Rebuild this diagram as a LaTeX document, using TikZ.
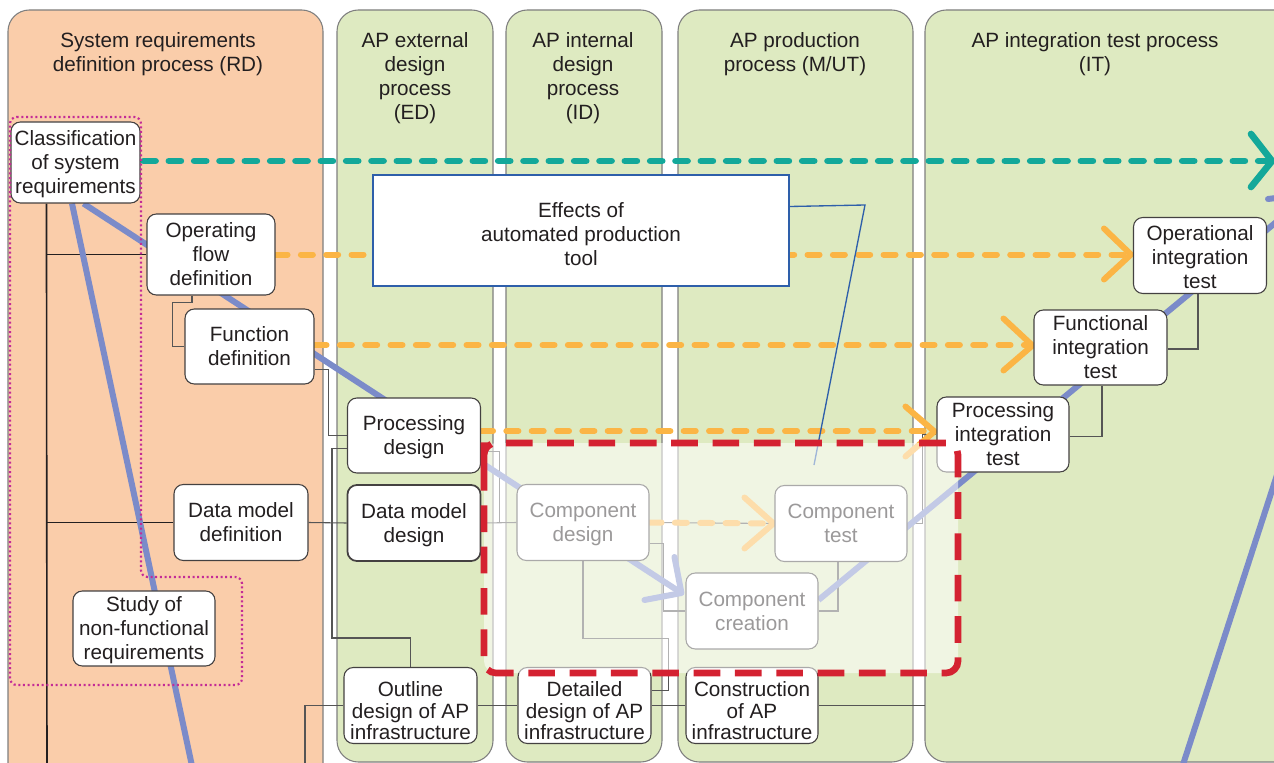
\documentclass[tikz,border=0pt]{standalone}
\usepackage{fontspec}
\setmainfont{Liberation Sans}
\usetikzlibrary{calc}
\definecolor{peach}{HTML}{FACDAA}
\definecolor{lanegreen}{HTML}{DEEAC1}
\definecolor{laneedge}{HTML}{7F7F7F}
\definecolor{vblue}{HTML}{7B8BC9}
\definecolor{tealc}{HTML}{13A89A}
\definecolor{orangec}{HTML}{FBB545}
\definecolor{redc}{HTML}{D42231}
\definecolor{calloutblue}{HTML}{2E5FAA}
\definecolor{dotmag}{HTML}{C42B96}
\definecolor{ink}{HTML}{231F20}
\definecolor{linkgray}{HTML}{555555}

\pgfdeclarelayer{lanes}
\pgfdeclarelayer{lines}
\pgfdeclarelayer{top}
\pgfsetlayers{lanes,lines,main,top}

% centred multi-line label, lowered a little inside its box
\newcommand\bxt[2][-5.4pt]{\raisebox{#1}[0pt][0pt]{\begin{tabular}{@{}c@{}}#2\end{tabular}}}
% same, with tighter lines for the infrastructure steps
\newcommand\bxtight[1]{{\renewcommand\arraystretch{0.89}\bxt[-9.8pt]{#1}}}

\tikzset{
  lane/.style={draw=laneedge, line width=0.8pt, rounded corners=16pt},
  header/.style={align=center, inner sep=0pt},
  box/.style={draw=ink!85, line width=0.8pt, fill=white, rounded corners=7pt,
              inner sep=0pt},
  bx/.style 2 args={minimum width=#1*0.75pt, minimum height=#2*0.75pt},
  tree/.style={draw=ink, line width=1.2pt},
  link/.style={draw=linkgray, line width=0.8pt},
  vline/.style={draw=vblue, line width=4.5pt},
  odash/.style={draw=orangec, line width=4.5pt, line cap=round, dash pattern=on 9pt off 10pt},
  tdash/.style={draw=tealc, line width=5pt, line cap=round, dash pattern=on 9pt off 10pt},
  chev/.style={line width=4.5pt, line cap=round, line join=round},
  magdot/.style={draw=dotmag, line width=1.6pt, dash pattern=on 1.5pt off 2pt, rounded corners=5pt},
}

\begin{document}
\begin{tikzpicture}[x=0.75pt, y=-0.75pt, font=\fontsize{15.5}{18}\selectfont, text=ink]
\useasboundingbox (0,0) rectangle (1274,763);
\clip (0,0) rectangle (1274,763);

% process steps
\path
  node[box, bx={129}{81}] (class) at (75.5,162.5) {\bxt{Classification\\of system\\requirements}}
  node[box, bx={128}{81}] (opflow) at (211,254.5) {\bxt{Operating\\flow\\definition}}
  node[box, bx={129}{75}] (funcdef) at (249.5,346.5) {\bxt{Function\\definition}}
  node[box, bx={134}{76}] (dmdef) at (241,522.5) {\bxt{Data model\\definition}}
  node[box, bx={142}{75}] (study) at (144,628.5) {\bxt{Study of\\non-functional\\requirements}}
  node[box, bx={133}{75}] (procdesign) at (414,435.5) {\bxt{Processing\\design}}
  node[box, bx={133}{76}, line width=1.3pt] (dmdesign) at (414,523) {\bxt{Data model\\design}}
  node[box, bx={133}{76}] (outline) at (410.5,705.5) {\bxtight{Outline\\design of AP\\infrastructure}}
  node[box, bx={133}{76}] (detailed) at (584.5,705.5) {\bxtight{Detailed\\design of AP\\infrastructure}}
  node[box, bx={132}{76}] (construct) at (752,705.5) {\bxtight{Construction\\of AP\\infrastructure}}
  node[box, bx={132}{76}] (compdesign) at (583,522.5) {\bxt{Component\\design}}
  node[box, bx={132}{76}] (comptest) at (841,523.5) {\bxt{Component\\test}}
  node[box, bx={132}{76}] (compcreate) at (752,611) {\bxt{Component\\creation}}
  node[box, bx={132}{75}] (procint) at (1003,434.5) {\bxt{Processing\\integration\\test}}
  node[box, bx={133}{75}] (funcint) at (1100.5,347.5) {\bxt{Functional\\integration\\test}}
  node[box, bx={133}{76}] (opint) at (1200,255.5) {\bxt[-6.5pt]{Operational\\integration\\test}};

% free ends of connectors
\coordinate (treebot) at (47,780);
\coordinate (outbot) at (305,780);
\coordinate (consend) at (925,705.5);
\coordinate (lsbot) at (195,780);
\coordinate (rs1) at (1178,780);
\coordinate (rs2) at (1300,404);
\coordinate (fr1) at (1268,199);
\coordinate (fr2) at (1292,196);
\coordinate (vout) at (1292,209);
\coordinate (vtip) at ($(compcreate.west)+(-4,-18)$);
\coordinate (tealend) at (1272,161);
\coordinate (callbend) at (865,205);
\coordinate (callend) at (814,465);

\begin{pgfonlayer}{lanes}
\fill[white] (0,0) rectangle (1274,763);
\draw[lane, fill=peach] (8,10) rectangle (323,810);
\draw[lane, fill=lanegreen] (337,10) rectangle (493,762);
\draw[lane, fill=lanegreen] (506,10) rectangle (662,762);
\draw[lane, fill=lanegreen] (678,10) rectangle (913,762);
\draw[lane, fill=lanegreen] (925,10) rectangle (1330,762);
\node[header] (hRD) at (158,54) {System requirements\\definition process (RD)};
\node[header] (hED) at (415,78) {AP external\\design\\process\\(ED)};
\node[header] (hID) at (583,78) {AP internal\\design\\process\\(ID)};
\node[header] (hMUT) at (795,54) {AP production\\process (M/UT)};
\node[header] (hIT) at (1095,54) {AP integration test process\\(IT)};
\end{pgfonlayer}

\begin{pgfonlayer}{lines}
% hierarchy connectors
\draw[tree] ($(class.south west)+(36,0)$) -- (treebot);
\draw[tree, line width=1pt] (opflow.west -| treebot) -- (opflow.west);
\draw[tree, line width=1pt] (dmdef.west -| treebot) -- (dmdef.west);
\draw[link] ($(opflow.south)+(-19,0)$) -- ++(0,7) -| ($(funcdef.west)+(-12,0)$) -- (funcdef.west);
\draw[link] ($(funcdef.south east)+(0,-15)$) -- ++(14,0) |- (procdesign.west);
\draw[link] ($(procdesign.west)+(0,13)$) -- ++(-15,0) |- ($(outline.north)+(0,-29)$) -- (outline.north);
\draw[link] (dmdef.east) -- (dmdesign.west);
\draw[link] (dmdesign.east) -- (compdesign.west);
\draw[link] ($(procdesign.east)+(0,16)$) -- ++(18,0) |- (compdesign.west);
\draw[link] (compdesign.east) -- (comptest.west);
\draw[link] ($(compdesign.east)+(0,21)$) -- ++(14,0) |- (compcreate.west);
\draw[link] (compdesign.south) -- ++(0,77) -| ($(detailed.east)+(17,-15)$) -- ($(detailed.east)+(0,-15)$);
\draw[link] (compcreate.east) -| ($(comptest.south)+(-3,0)$);
\draw[link] (comptest.east) -- ++(15,0) |- (procint.west);
\draw[link] ($(procint.east)+(0,2)$) -| ($(funcint.south)+(1.5,0)$);
\draw[link] ($(funcint.east)+(0,1.5)$) -| ($(opint.south)+(-2,0)$);
\draw[link] (outline.west) -| (outbot);
\draw[link] (outline.east) -- (detailed.west);
\draw[link] (detailed.east) -- (construct.west);
\draw[link] (construct.east) -- (consend);

% V-model lines
\draw[vline] ($(class.south)+(-3.5,0)$) -- (lsbot);
\draw[vline] ($(class.south)+(8,0)$) -- (vtip);
\draw[vline, chev] ($(vtip)+(-7,-36)$) -- (vtip) -- ($(vtip)+(-37,7)$);
\draw[vline] ($(compcreate.east)+(0,-11)$) -- (vout);
\draw[vline] (rs1) -- (rs2);
\draw[vline, line cap=round] (fr1) -- (fr2);

% correspondence arrows
\draw[tdash] ($(class.east)+(3,-1.5)$) -- (tealend);
\draw[chev, tealc, line width=5pt] ($(tealend)+(-21,-27)$) -- (tealend) -- ($(tealend)+(-21,26)$);

\draw[odash] (opflow.east) -- ($(opflow.east -| opint.west)+(-2,0)$);
\draw[chev, orangec] ($(opint.west)+(-29,-27)$) -- ($(opint.west)+(-2,-1)$) -- ($(opint.west)+(-29,24)$);

\draw[odash] ($(funcdef.east)+(0,-1.5)$) -- ($(funcdef.east -| funcint.west)+(-2,-1.5)$);
\draw[chev, orangec] ($(funcint.west)+(-30,-29)$) -- ($(funcint.west)+(-1,-2)$) -- ($(funcint.west)+(-30,23)$);

\draw[odash] ($(procdesign.east)+(0,-4.5)$) -- ($(procdesign.east -| procint.west)+(-2,-4.5)$);
\draw[chev, orangec] ($(procint.west)+(-31,-28)$) -- ($(procint.west)+(-2,-3)$) -- ($(procint.west)+(-31,22)$);

\draw[odash] (compdesign.east) -- ($(comptest.west)+(-2,0)$);
\draw[chev, orangec] ($(comptest.west)+(-30,-26)$) -- ($(comptest.west)+(-1,0)$) -- ($(comptest.west)+(-30,25)$);
\end{pgfonlayer}

\begin{pgfonlayer}{top}
% tool effects callout
\node[draw=calloutblue, line width=1.5pt, fill=white, inner sep=0pt,
      bx={416}{111}] (effects) at (581,230.5) {\bxt[-8pt]{Effects of\\automated production\\tool}};
\draw[calloutblue, line width=1pt] ($(effects.east)+(0,-24)$) -- (callbend) -- (callend);

% grouping of requirements
\draw[magdot] (10,117) -- (141,117) -- (141,577) -- (242,577) -- (242,685) -- (10,685) -- cycle;

% scope of the automated tool
\fill[white, opacity=0.55, rounded corners=9pt] (484,443) rectangle (958,673);
\draw[redc, line width=5pt, dash pattern=on 20pt off 11pt, rounded corners=9pt]
  (484,452) -- (484,673) -- (958,673) -- (958,443) -- (484,443) -- cycle;
\end{pgfonlayer}
\end{tikzpicture}
\end{document}
